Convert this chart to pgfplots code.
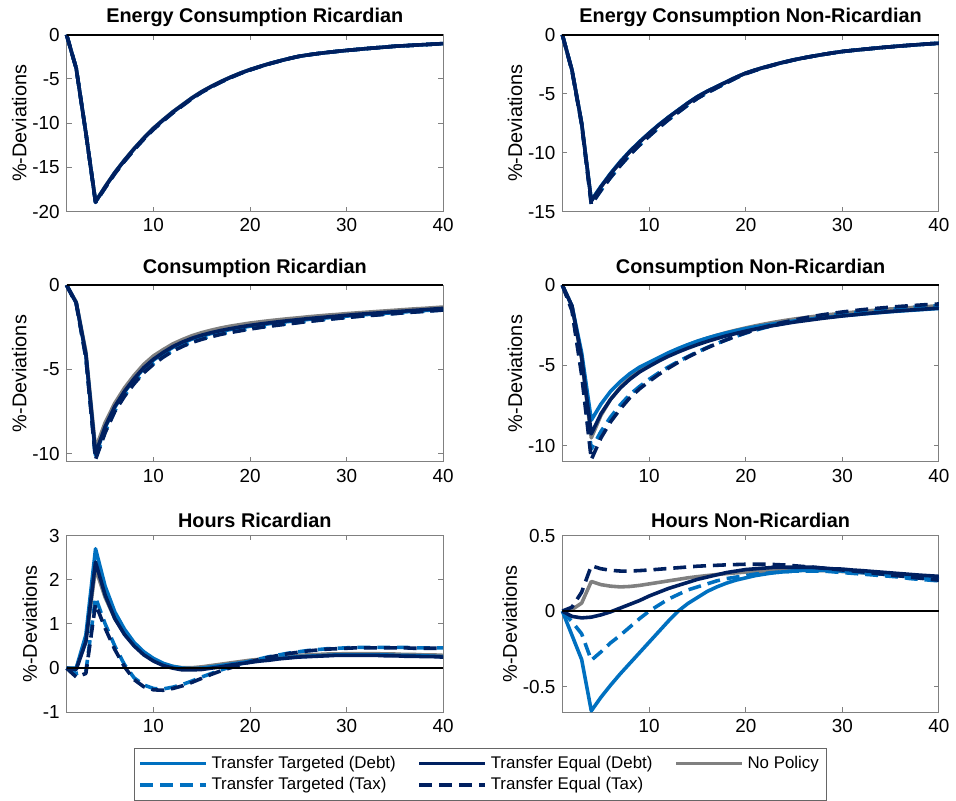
\documentclass[border=0pt]{standalone}
\usepackage{fontspec}
\setmainfont{Liberation Sans}
\usepackage{pgfplots}
\usepackage{pgfplotstable}
\pgfplotsset{compat=1.18}
\usepgfplotslibrary{groupplots}
\usetikzlibrary{calc}

\definecolor{tblue}{RGB}{0,112,192}
\definecolor{tnavy}{RGB}{0,32,96}
\definecolor{tgray}{RGB}{128,128,128}

\pgfplotsset{
  TD/.style={tblue, line width=1.8pt, line join=round},
  ED/.style={tnavy, line width=1.8pt, line join=round},
  NP/.style={tgray, line width=1.8pt, line join=round},
  TT/.style={tblue, line width=1.8pt, line join=round, dash pattern=on 6.5pt off 3.5pt},
  ET/.style={tnavy, line width=1.8pt, line join=round, dash pattern=on 6.5pt off 3.5pt},
}

% energy consumption, Ricardian
\pgfplotstableread{
t td ed np tt et
1 0 0 0 0 0
2 -3.8 -3.8 -3.8 -3.8 -3.8
3 -11.1 -11.1 -11.1 -11.1 -11.1
4 -18.9 -18.9 -18.85 -18.95 -18.95
5 -17.2 -17.2 -17.15 -17.3 -17.3
6 -15.6 -15.6 -15.55 -15.7 -15.7
7 -14.2 -14.2 -14.15 -14.3 -14.3
8 -12.9 -12.9 -12.85 -13.0 -13.0
9 -11.7 -11.7 -11.65 -11.8 -11.8
10 -10.6 -10.6 -10.55 -10.7 -10.7
11 -9.65 -9.65 -9.6 -9.74 -9.74
12 -8.75 -8.75 -8.7 -8.83 -8.83
13 -7.95 -7.95 -7.9 -8.02 -8.02
14 -7.15 -7.15 -7.11 -7.21 -7.21
15 -6.45 -6.45 -6.41 -6.5 -6.5
16 -5.85 -5.85 -5.82 -5.9 -5.9
17 -5.3 -5.3 -5.27 -5.34 -5.34
18 -4.8 -4.8 -4.78 -4.84 -4.84
19 -4.35 -4.35 -4.33 -4.38 -4.38
20 -3.95 -3.95 -3.93 -3.98 -3.98
21 -3.6 -3.6 -3.59 -3.62 -3.62
22 -3.27 -3.27 -3.26 -3.29 -3.29
23 -2.98 -2.98 -2.97 -2.99 -2.99
24 -2.7 -2.7 -2.7 -2.71 -2.71
25 -2.45 -2.45 -2.45 -2.46 -2.46
26 -2.28 -2.28 -2.28 -2.28 -2.28
27 -2.13 -2.13 -2.13 -2.13 -2.13
28 -2.0 -2.0 -2.0 -2.0 -2.0
29 -1.88 -1.88 -1.88 -1.88 -1.88
30 -1.77 -1.77 -1.77 -1.77 -1.77
31 -1.67 -1.67 -1.67 -1.67 -1.67
32 -1.57 -1.57 -1.57 -1.57 -1.57
33 -1.48 -1.48 -1.48 -1.48 -1.48
34 -1.39 -1.39 -1.39 -1.39 -1.39
35 -1.3 -1.3 -1.3 -1.3 -1.3
36 -1.24 -1.24 -1.24 -1.24 -1.24
37 -1.18 -1.18 -1.18 -1.18 -1.18
38 -1.12 -1.12 -1.12 -1.12 -1.12
39 -1.06 -1.06 -1.06 -1.06 -1.06
40 -1.0 -1.0 -1.0 -1.0 -1.0
}\tabER

% energy consumption, non-Ricardian
\pgfplotstableread{
t td ed np tt et
1 0 0 0 0 0
2 -3.0 -3.0 -3.0 -3.05 -3.05
3 -7.5 -7.5 -7.5 -7.6 -7.6
4 -14.05 -14.1 -14.1 -14.35 -14.4
5 -12.85 -12.9 -12.9 -13.2 -13.2
6 -11.75 -11.8 -11.8 -12.1 -12.1
7 -10.75 -10.8 -10.8 -11.1 -11.1
8 -9.86 -9.9 -9.9 -10.18 -10.18
9 -9.06 -9.1 -9.1 -9.36 -9.36
10 -8.32 -8.35 -8.35 -8.59 -8.59
11 -7.62 -7.65 -7.65 -7.87 -7.87
12 -6.98 -7.0 -7.0 -7.2 -7.2
13 -6.38 -6.4 -6.4 -6.58 -6.58
14 -5.78 -5.8 -5.8 -5.96 -5.96
15 -5.24 -5.25 -5.25 -5.39 -5.39
16 -4.79 -4.8 -4.8 -4.92 -4.92
17 -4.39 -4.4 -4.4 -4.5 -4.5
18 -4.0 -4.0 -4.0 -4.08 -4.08
19 -3.6 -3.6 -3.6 -3.66 -3.66
20 -3.25 -3.25 -3.25 -3.3 -3.3
21 -2.98 -2.98 -2.98 -3.02 -3.02
22 -2.74 -2.74 -2.74 -2.77 -2.77
23 -2.52 -2.52 -2.52 -2.54 -2.54
24 -2.31 -2.31 -2.31 -2.33 -2.33
25 -2.12 -2.12 -2.12 -2.13 -2.13
26 -1.96 -1.96 -1.96 -1.96 -1.96
27 -1.81 -1.81 -1.81 -1.81 -1.81
28 -1.67 -1.67 -1.67 -1.67 -1.67
29 -1.54 -1.54 -1.54 -1.54 -1.54
30 -1.42 -1.42 -1.42 -1.42 -1.42
31 -1.33 -1.33 -1.33 -1.33 -1.33
32 -1.25 -1.25 -1.25 -1.25 -1.25
33 -1.17 -1.17 -1.17 -1.17 -1.17
34 -1.09 -1.09 -1.09 -1.09 -1.09
35 -1.02 -1.02 -1.02 -1.02 -1.02
36 -0.95 -0.95 -0.95 -0.95 -0.95
37 -0.89 -0.89 -0.89 -0.89 -0.89
38 -0.83 -0.83 -0.83 -0.83 -0.83
39 -0.77 -0.77 -0.77 -0.77 -0.77
40 -0.72 -0.72 -0.72 -0.72 -0.72
}\tabEN

% consumption, Ricardian
\pgfplotstableread{
t td ed np tt et
1 0 0 0 0 0
2 -1.05 -1.05 -1.0 -1.1 -1.1
3 -4.15 -4.1 -3.95 -4.3 -4.3
4 -10.1 -10.0 -9.7 -10.3 -10.35
5 -8.45 -8.4 -8.15 -8.7 -8.75
6 -7.25 -7.2 -7.0 -7.45 -7.5
7 -6.35 -6.3 -6.1 -6.55 -6.6
8 -5.6 -5.55 -5.35 -5.8 -5.85
9 -4.95 -4.9 -4.7 -5.15 -5.2
10 -4.45 -4.4 -4.2 -4.65 -4.7
11 -4.05 -4.0 -3.83 -4.24 -4.28
12 -3.7 -3.65 -3.49 -3.88 -3.92
13 -3.43 -3.38 -3.23 -3.6 -3.64
14 -3.2 -3.15 -3.0 -3.36 -3.4
15 -3.02 -2.97 -2.82 -3.18 -3.22
16 -2.87 -2.82 -2.67 -3.03 -3.06
17 -2.74 -2.69 -2.54 -2.89 -2.92
18 -2.63 -2.58 -2.43 -2.78 -2.81
19 -2.53 -2.48 -2.34 -2.68 -2.71
20 -2.44 -2.39 -2.25 -2.59 -2.61
21 -2.36 -2.31 -2.18 -2.5 -2.52
22 -2.29 -2.24 -2.11 -2.42 -2.44
23 -2.22 -2.17 -2.05 -2.35 -2.37
24 -2.16 -2.11 -1.99 -2.28 -2.3
25 -2.1 -2.05 -1.94 -2.21 -2.23
26 -2.04 -1.99 -1.88 -2.14 -2.16
27 -1.99 -1.94 -1.83 -2.08 -2.1
28 -1.94 -1.89 -1.78 -2.02 -2.04
29 -1.89 -1.84 -1.74 -1.97 -1.98
30 -1.84 -1.79 -1.69 -1.91 -1.93
31 -1.79 -1.74 -1.65 -1.86 -1.87
32 -1.75 -1.7 -1.61 -1.81 -1.82
33 -1.71 -1.66 -1.57 -1.77 -1.78
34 -1.67 -1.62 -1.53 -1.72 -1.73
35 -1.63 -1.58 -1.49 -1.68 -1.69
36 -1.59 -1.54 -1.45 -1.63 -1.64
37 -1.55 -1.5 -1.41 -1.59 -1.6
38 -1.51 -1.46 -1.38 -1.55 -1.56
39 -1.47 -1.42 -1.34 -1.51 -1.52
40 -1.43 -1.38 -1.3 -1.47 -1.48
}\tabCR

% consumption, non-Ricardian
\pgfplotstableread{
t td ed np tt et
1 0 0 0 0 0
2 -1.3 -1.3 -1.3 -1.5 -1.6
3 -4.2 -4.5 -4.6 -5.3 -5.6
4 -8.4 -9.25 -9.5 -10.2 -10.85
5 -7.4 -8.0 -8.1 -9.1 -9.5
6 -6.6 -7.1 -7.1 -8.2 -8.5
7 -6.0 -6.4 -6.35 -7.45 -7.7
8 -5.5 -5.85 -5.75 -6.8 -7.0
9 -5.1 -5.4 -5.28 -6.3 -6.45
10 -4.8 -5.05 -4.9 -5.85 -5.98
11 -4.5 -4.72 -4.56 -5.45 -5.55
12 -4.2 -4.42 -4.25 -5.08 -5.16
13 -3.94 -4.16 -3.97 -4.75 -4.8
14 -3.7 -3.92 -3.72 -4.45 -4.48
15 -3.48 -3.7 -3.5 -4.15 -4.18
16 -3.29 -3.5 -3.3 -3.88 -3.9
17 -3.12 -3.32 -3.12 -3.63 -3.64
18 -2.97 -3.15 -2.95 -3.4 -3.4
19 -2.83 -3.0 -2.8 -3.18 -3.17
20 -2.7 -2.86 -2.66 -2.98 -2.96
21 -2.59 -2.73 -2.53 -2.8 -2.77
22 -2.49 -2.61 -2.41 -2.64 -2.6
23 -2.4 -2.5 -2.3 -2.5 -2.44
24 -2.31 -2.4 -2.2 -2.37 -2.3
25 -2.23 -2.3 -2.11 -2.25 -2.17
26 -2.16 -2.22 -2.03 -2.14 -2.05
27 -2.09 -2.14 -1.95 -2.04 -1.94
28 -2.02 -2.06 -1.88 -1.95 -1.84
29 -1.96 -1.99 -1.81 -1.87 -1.75
30 -1.9 -1.92 -1.75 -1.8 -1.67
31 -1.85 -1.86 -1.69 -1.73 -1.6
32 -1.8 -1.8 -1.63 -1.66 -1.53
33 -1.75 -1.74 -1.58 -1.6 -1.47
34 -1.7 -1.69 -1.53 -1.54 -1.42
35 -1.65 -1.64 -1.48 -1.49 -1.37
36 -1.61 -1.59 -1.44 -1.44 -1.32
37 -1.57 -1.55 -1.4 -1.39 -1.28
38 -1.53 -1.51 -1.36 -1.35 -1.24
39 -1.49 -1.47 -1.32 -1.31 -1.2
40 -1.45 -1.43 -1.28 -1.27 -1.17
}\tabCN

% hours, Ricardian
\pgfplotstableread{
t td ed np tt et
1 0 0 0 0 0
2 0.0 -0.03 0.0 -0.12 -0.2
3 0.75 0.6 0.6 -0.08 -0.12
4 2.7 2.4 2.25 1.6 1.45
5 1.85 1.65 1.6 1.0 0.9
6 1.27 1.12 1.12 0.5 0.42
7 0.88 0.76 0.78 0.08 0.03
8 0.58 0.5 0.52 -0.22 -0.26
9 0.37 0.3 0.33 -0.38 -0.42
10 0.22 0.16 0.2 -0.46 -0.49
11 0.11 0.06 0.1 -0.47 -0.5
12 0.04 0.0 0.04 -0.43 -0.46
13 0.0 -0.04 0.01 -0.37 -0.4
14 -0.01 -0.04 0.01 -0.29 -0.32
15 0.0 -0.03 0.03 -0.2 -0.23
16 0.03 0.0 0.06 -0.12 -0.14
17 0.06 0.03 0.09 -0.04 -0.06
18 0.09 0.07 0.12 0.03 0.01
19 0.12 0.1 0.15 0.1 0.08
20 0.15 0.13 0.18 0.16 0.14
21 0.17 0.16 0.2 0.21 0.2
22 0.2 0.18 0.23 0.26 0.25
23 0.22 0.21 0.25 0.3 0.29
24 0.24 0.23 0.27 0.34 0.33
25 0.26 0.25 0.29 0.37 0.36
26 0.27 0.26 0.3 0.4 0.39
27 0.28 0.27 0.31 0.42 0.41
28 0.29 0.28 0.32 0.44 0.43
29 0.3 0.29 0.32 0.45 0.44
30 0.3 0.29 0.33 0.46 0.45
31 0.3 0.29 0.33 0.47 0.46
32 0.3 0.29 0.33 0.47 0.46
33 0.3 0.29 0.33 0.47 0.46
34 0.3 0.28 0.32 0.47 0.46
35 0.29 0.28 0.32 0.47 0.46
36 0.29 0.27 0.31 0.47 0.46
37 0.28 0.27 0.31 0.46 0.45
38 0.28 0.26 0.3 0.46 0.45
39 0.27 0.26 0.3 0.46 0.45
40 0.26 0.25 0.29 0.46 0.45
}\tabHR

% hours, non-Ricardian
\pgfplotstableread{
t td ed np tt et
1 0 0 0 0 0
2 -0.16 -0.035 0.01 -0.07 0.026
3 -0.32 -0.045 0.053 -0.15 0.125
4 -0.66 -0.04 0.196 -0.325 0.3
5 -0.57 -0.025 0.175 -0.27 0.28
6 -0.49 -0.005 0.165 -0.21 0.27
7 -0.415 0.02 0.16 -0.16 0.265
8 -0.345 0.045 0.163 -0.105 0.265
9 -0.275 0.07 0.17 -0.05 0.268
10 -0.205 0.1 0.18 0.0 0.272
11 -0.135 0.125 0.19 0.04 0.277
12 -0.065 0.15 0.2 0.08 0.282
13 0.0 0.17 0.21 0.11 0.287
14 0.05 0.19 0.22 0.14 0.292
15 0.09 0.21 0.228 0.16 0.297
16 0.13 0.225 0.235 0.18 0.3
17 0.16 0.24 0.242 0.2 0.303
18 0.185 0.255 0.248 0.215 0.306
19 0.205 0.265 0.253 0.225 0.308
20 0.22 0.275 0.258 0.235 0.31
21 0.235 0.28 0.262 0.245 0.31
22 0.245 0.285 0.265 0.25 0.31
23 0.255 0.29 0.268 0.255 0.308
24 0.26 0.29 0.27 0.26 0.305
25 0.265 0.29 0.27 0.265 0.3
26 0.27 0.29 0.27 0.265 0.295
27 0.27 0.29 0.27 0.265 0.29
28 0.27 0.285 0.268 0.265 0.284
29 0.27 0.28 0.265 0.26 0.278
30 0.265 0.278 0.262 0.255 0.272
31 0.26 0.272 0.258 0.25 0.266
32 0.255 0.268 0.254 0.245 0.26
33 0.25 0.263 0.25 0.24 0.253
34 0.245 0.258 0.245 0.235 0.246
35 0.24 0.253 0.24 0.23 0.239
36 0.235 0.248 0.235 0.225 0.232
37 0.23 0.243 0.23 0.215 0.225
38 0.22 0.238 0.225 0.21 0.218
39 0.215 0.234 0.22 0.205 0.211
40 0.21 0.23 0.215 0.2 0.205
}\tabHN

% drawing order: no policy below, then targeted, then equal on top
\newcommand{\fivelines}[1]{%
  \addplot[NP, forget plot] table[x=t, y=np] {#1};
  \addplot[TD, forget plot] table[x=t, y=td] {#1};
  \addplot[TT, forget plot] table[x=t, y=tt] {#1};
  \addplot[ED, forget plot] table[x=t, y=ed] {#1};
  \addplot[ET, forget plot] table[x=t, y=et] {#1};
  \addplot[black, line width=1pt, forget plot] coordinates {(1,0) (40,0)};
}

\begin{document}
\begin{tikzpicture}
\begin{groupplot}[
  group style={group size=2 by 3, horizontal sep=60pt, vertical sep=37pt},
  scale only axis, width=189.5pt, height=89pt,
  xmin=1, xmax=40, xtick={10,20,30,40},
  clip=false,
  tick align=inside, major tick length=2.5pt,
  axis line style={black!50, line width=0.5pt},
  tick style={black!50, line width=0.5pt},
  every tick label/.append style={font=\fontsize{9.5}{11}\selectfont},
  /pgf/number format/assume math mode=true,
  title style={font=\fontsize{10}{12}\selectfont\bfseries, yshift=-5.5pt},
  ylabel={\%-Deviations}, ylabel shift=-4pt,
  ylabel style={font=\fontsize{10}{12}\selectfont},
]
\nextgroupplot[title={Energy Consumption Ricardian}, ymin=-20, ymax=0, ytick={-20,-15,-10,-5,0}]
\fivelines{\tabER}
\nextgroupplot[title={Energy Consumption Non-Ricardian}, ymin=-15, ymax=0, ytick={-15,-10,-5,0}]
\fivelines{\tabEN}
\nextgroupplot[title={Consumption Ricardian}, ymin=-10.5, ymax=0, ytick={-10,-5,0}]
\fivelines{\tabCR}
\nextgroupplot[title={Consumption Non-Ricardian}, ymin=-11, ymax=0, ytick={-10,-5,0}]
\fivelines{\tabCN}
\nextgroupplot[title={Hours Ricardian}, ymin=-1, ymax=3, ytick={-1,0,1,2,3}]
\fivelines{\tabHR}
\nextgroupplot[title={Hours Non-Ricardian}, ymin=-0.67, ymax=0.5, ytick={-0.5,0,0.5},
  legend columns=3, legend cell align=left,
  legend image code/.code={\draw[#1] (0pt,0pt) -- (33pt,0pt);},
  legend style={at={(-0.217,-0.2)}, anchor=north, draw=black!60,
    font=\fontsize{8.5}{10}\selectfont, row sep=-1pt, inner sep=2pt,
    /tikz/every even column/.append style={column sep=9pt}}]
\fivelines{\tabHN}
\addlegendimage{TD}
\addlegendimage{ED}
\addlegendimage{NP}
\addlegendimage{TT}
\addlegendimage{ET}
\legend{Transfer Targeted (Debt), Transfer Equal (Debt), No Policy, Transfer Targeted (Tax), Transfer Equal (Tax)}
\end{groupplot}
\path ($(group c1r1.north west)+(-33.5pt,17.5pt)$) rectangle ($(group c2r3.south east)+(6pt,-40pt)$);
\end{tikzpicture}
\end{document}
